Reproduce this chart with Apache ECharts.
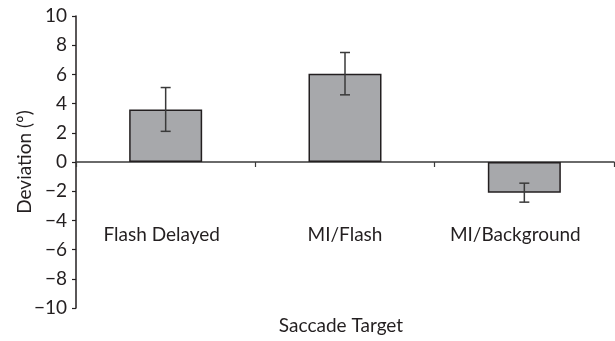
<!DOCTYPE html>
<html>
<head>
<meta charset="utf-8">
<script src="https://cdn.jsdelivr.net/npm/echarts@6/dist/echarts.min.js"></script>
<style>
  html, body { margin: 0; padding: 0; background: #fff; }
  #chart { width: 615px; height: 341px; }
</style>
</head>
<body>
<div id="chart"></div>
<script>
// Mean saccade deviation per target condition, with error half-widths
const categories = ['Flash Delayed', 'MI/Flash', 'MI/Background'];
const meanDeviation = [3.6, 6.05, -2.1];
const errorHalf = [1.5, 1.45, 0.65];
const yTicks = [-10, -8, -6, -4, -2, 0, 2, 4, 6, 8, 10];

const FONT = 'Lato';
const chart = echarts.init(document.getElementById('chart'));

const errorData = meanDeviation.map((m, i) => [i, m - errorHalf[i], m + errorHalf[i]]);

// Small right padding nudges the longer labels slightly left of their slot centre
const labelPadRight = [8, 0, 18];
const categoryData = categories.map((c, i) => ({
  value: c,
  textStyle: { padding: [0, labelPadRight[i], 0, 0] }
}));

chart.setOption({
  animation: false,
  backgroundColor: '#ffffff',
  textStyle: { fontFamily: FONT },
  grid: { left: 76, right: 1, top: 16, bottom: 33, containLabel: false, outerBoundsMode: 'none' },
  xAxis: {
    type: 'category',
    data: categoryData,
    boundaryGap: true,
    name: 'Saccade Target',
    nameLocation: 'middle',
    nameGap: 8,
    nameMoveOverlap: false,
    nameTextStyle: { fontFamily: FONT, fontSize: 19, color: '#231f20', padding: [0, 8, 0, 0] },
    axisLine: { onZero: true, lineStyle: { color: '#3a3a3a', width: 1.5 } },
    axisTick: { show: true, alignWithLabel: false, length: 5, lineStyle: { color: '#3a3a3a', width: 1.2 } },
    axisLabel: { margin: -83, fontFamily: FONT, fontSize: 19, color: '#231f20' },
    splitLine: { show: false }
  },
  yAxis: {
    type: 'value',
    min: yTicks[0],
    max: yTicks[yTicks.length - 1],
    interval: 2,
    name: 'Deviation (º)',
    nameLocation: 'middle',
    nameGap: 42,
    nameRotate: 90,
    nameMoveOverlap: false,
    nameTextStyle: { fontFamily: FONT, fontSize: 19, color: '#231f20' },
    axisLine: { show: true, lineStyle: { color: '#231f20', width: 1.5 } },
    axisTick: { show: true, length: 4, lineStyle: { color: '#231f20', width: 1.2 } },
    axisLabel: {
      margin: 9,
      fontFamily: FONT,
      fontSize: 19,
      color: '#231f20',
      hideOverlap: false,
      showMinLabel: true,
      showMaxLabel: true,
      formatter: v => (v < 0 ? '\u2212' + Math.abs(v) : String(v))
    },
    splitLine: { show: false }
  },
  series: [
    {
      type: 'bar',
      data: meanDeviation,
      barWidth: 73,
      itemStyle: { color: '#a7a8ab', borderColor: '#231f20', borderWidth: 1.5 },
      z: 2
    },
    {
      type: 'custom',
      data: errorData,
      z: 3,
      renderItem: (params, api) => {
        const x = api.value(0);
        const lo = api.coord([x, api.value(1)]);
        const hi = api.coord([x, api.value(2)]);
        const cap = 5;
        const style = { stroke: '#3a3a3a', lineWidth: 1.5 };
        return {
          type: 'group',
          children: [
            { type: 'line', shape: { x1: hi[0], y1: hi[1], x2: lo[0], y2: lo[1] }, style },
            { type: 'line', shape: { x1: hi[0] - cap, y1: hi[1], x2: hi[0] + cap, y2: hi[1] }, style },
            { type: 'line', shape: { x1: lo[0] - cap, y1: lo[1], x2: lo[0] + cap, y2: lo[1] }, style }
          ]
        };
      }
    }
  ]
});
</script>
</body>
</html>
